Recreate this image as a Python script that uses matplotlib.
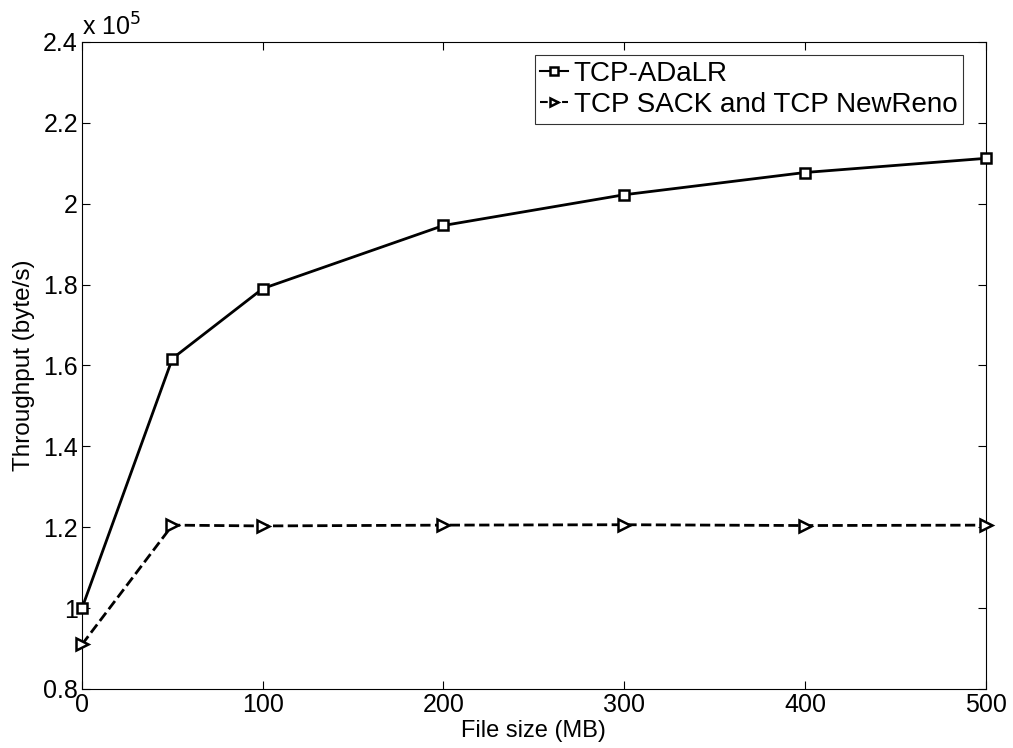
import matplotlib.pyplot as plt

plt.rcParams['font.family'] = ['Liberation Sans', 'DejaVu Sans']

# 파일 크기별 처리량 데이터
size = [0, 50, 100, 200, 300, 400, 500]
adalr = [1.00, 1.617, 1.79, 1.946, 2.022, 2.077, 2.112]
sack = [0.91, 1.205, 1.203, 1.205, 1.206, 1.204, 1.205]

fig = plt.figure(figsize=(10.13, 7.48), dpi=100)
ax = fig.add_axes([0.081, 0.079, 0.892, 0.865])

ax.plot(size, adalr, 'k-', marker='s', markersize=7, markerfacecolor='white',
        markeredgewidth=1.8, linewidth=2, label='TCP-ADaLR', clip_on=False, zorder=3)
ax.plot(size, sack, 'k--', marker='>', markersize=8, markerfacecolor='white',
        markeredgewidth=1.8, linewidth=2, label='TCP SACK and TCP NewReno', clip_on=False, zorder=3)

ax.set_xlim(0, 500)
ax.set_ylim(0.8, 2.4)
ax.set_xticks([0, 100, 200, 300, 400, 500])
ax.set_yticks([0.8, 1, 1.2, 1.4, 1.6, 1.8, 2, 2.2, 2.4])
ax.set_yticklabels(['0.8', '1', '1.2', '1.4', '1.6', '1.8', '2', '2.2', '2.4'])
ax.tick_params(direction='in', top=True, right=True, labelsize=18, length=6)
ax.tick_params(axis='x', pad=3)
ax.tick_params(axis='y', pad=3)
for s in ax.spines.values():
    s.set_linewidth(0.8)

ax.set_xlabel('File size (MB)', fontsize=17, labelpad=2)
ax.set_ylabel('Throughput (byte/s)', fontsize=17.5, labelpad=6)
ax.text(0, 1.002, r'x 10$^5$', transform=ax.transAxes, fontsize=18, va='bottom')

leg = ax.legend(loc='upper right', bbox_to_anchor=(963 / 1013, 1 - 55 / 748),
                bbox_transform=fig.transFigure, fontsize=20, handlelength=1.0,
                handletextpad=0.2, borderpad=0.2, labelspacing=0.2, fancybox=False,
                edgecolor='black', borderaxespad=0)
leg.get_frame().set_linewidth(0.8)
for h in leg.legend_handles:
    h.set_linewidth(1.5)
    h.set_markersize(6)

plt.savefig('out.png', dpi=100)
